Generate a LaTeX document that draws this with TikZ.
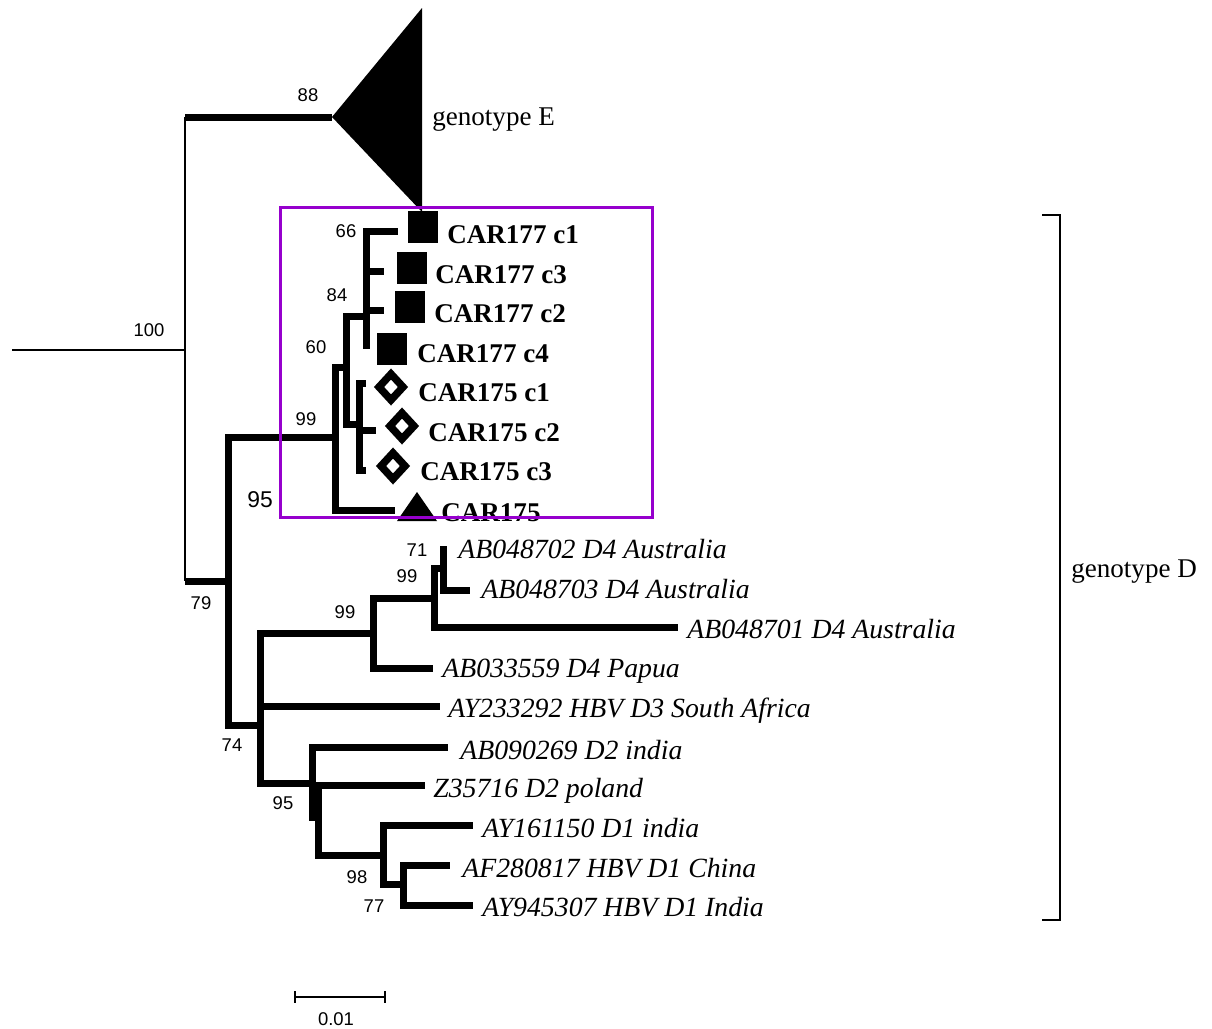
\documentclass[tikz,border=0pt]{standalone}
\usepackage{fontspec}
\setmainfont{Liberation Serif}
\newfontfamily\numfont{Liberation Sans}
\definecolor{boxpurple}{RGB}{150,0,205}
\begin{document}
\begin{tikzpicture}[x=0.02cm,y=-0.02cm,
  br/.style={line width=0.14cm,line join=miter},
  thinbr/.style={line width=0.04cm},
  tipit/.style={anchor=base west,inner sep=0pt,font=\fontsize{15.8}{18}\selectfont\itshape},
  tipbf/.style={anchor=base west,inner sep=0pt,font=\fontsize{15.4}{18}\selectfont\bfseries},
  clade/.style={anchor=base west,inner sep=0pt,font=\fontsize{15.4}{18}\selectfont},
  boot/.style={inner sep=0pt,font=\numfont\fontsize{10.5}{12}\selectfont},
  bootbig/.style={inner sep=0pt,font=\numfont\fontsize{13}{15}\selectfont},
  sqmark/.style={fill=black,inner sep=0pt,minimum width=0.6cm,minimum height=0.64cm},
  dmark/.style={line width=0.15cm,line join=miter},
]
\useasboundingbox (0,0) rectangle (1212,1028);
\fill[white] (0,0) rectangle (1212,1028);

% ---- tree coordinates ----
\coordinate (root) at (12,350);
\coordinate (n100) at (185,350);
\coordinate (nE) at (332,117);
\coordinate (n79) at (228,581);
\coordinate (n99a) at (335,437);
\coordinate (n60) at (346,367);
\coordinate (n66) at (366,316);
\coordinate (t1) at (398,231);
\coordinate (t3) at (384,271);
\coordinate (t2) at (384,310);
\coordinate (t4) at (366,349);
\coordinate (n175) at (359,424);
\coordinate (u1) at (366,383);
\coordinate (u2) at (376,430);
\coordinate (u3) at (366,470);
\coordinate (u0) at (395,510);
\coordinate (n74) at (260,725);
\coordinate (n99b) at (373,633);
\coordinate (n99c) at (434,598);
\coordinate (n71) at (443,568);
\coordinate (a702) at (443,546);
\coordinate (a703) at (470,590);
\coordinate (a701) at (678,627);
\coordinate (a559) at (433,668);
\coordinate (a292) at (440,706);
\coordinate (n95) at (312,783);
\coordinate (a269) at (448,747);
\coordinate (n95b) at (318,817);
\coordinate (a716) at (425,785);
\coordinate (n98) at (383,855);
\coordinate (a150) at (473,825);
\coordinate (n77) at (403,884);
\coordinate (a817) at (450,865);
\coordinate (a307) at (473,905);

% ---- branches ----
\draw[thinbr] (root) -- (n100);
\draw[thinbr] (nE -| n100) -- (n79 -| n100);
\draw[br] (nE -| n100) -- (nE);
\draw[br] (n79 -| n100) -- (n79);
\draw[br] (n79) |- (n99a);
\draw[br] (n79) |- (n74);
\draw[br] (n99a) |- (n60);
\draw[br] (n99a) |- (u0);
\draw[br] (n60) |- (n66);
\draw[br] (n60) |- (n175);
\draw[br] (n66) |- (t1);
\draw[br] (n66) |- (t3);
\draw[br] (n66) |- (t2);
\draw[br] (n66) |- (t4);
\draw[br] (n175) |- (u1);
\draw[br] (n175) |- (u2);
\draw[br] (n175) |- (u3);
\draw[br] (n74) |- (n99b);
\draw[br] (n74) |- (a292);
\draw[br] (n74) |- (n95);
\draw[br] (n99b) |- (n99c);
\draw[br] (n99b) |- (a559);
\draw[br] (n99c) |- (n71);
\draw[br] (n99c) |- (a701);
\draw[br] (n71) |- (a702);
\draw[br] (n71) |- (a703);
\draw[br] (n95) |- (a269);
\draw[br] (n95) |- (n95b);
\draw[br] (n95b) |- (a716);
\draw[br] (n95b) |- (n98);
\draw[br] (n98) |- (a150);
\draw[br] (n98) |- (n77);
\draw[br] (n77) |- (a817);
\draw[br] (n77) |- (a307);

% ---- collapsed genotype E ----
\fill (nE) -- (422,8) -- (422,212) -- cycle;
\node[clade] (gE) at (432,125) {genotype E};

% ---- markers ----
\node[sqmark] (m1) at (422.5,226.5) {};
\node[sqmark] (m3) at (411.5,267.5) {};
\node[sqmark] (m2) at (409.5,307) {};
\node[sqmark] (m4) at (392,348.5) {};
\draw[dmark] (391,374) -- (403,387) -- (391,400) -- (379,387) -- cycle;
\draw[dmark] (402,413) -- (414,426) -- (402,439) -- (390,426) -- cycle;
\draw[dmark] (393,453) -- (405,466) -- (393,479) -- (381,466) -- cycle;
\fill (417,492) -- (437,521) -- (397,521) -- cycle;

% ---- tip labels ----
\node[tipbf] (l1) at (447,243) {CAR177 c1};
\node[tipbf] (l3) at (435,283) {CAR177 c3};
\node[tipbf] (l2) at (434,322) {CAR177 c2};
\node[tipbf] (l4) at (417,362) {CAR177 c4};
\node[tipbf] (k1) at (418,401) {CAR175 c1};
\node[tipbf] (k2) at (428,441) {CAR175 c2};
\node[tipbf] (k3) at (420,480) {CAR175 c3};
\node[tipbf] (k0) at (441,521) {CAR175};

\node[tipit] (b702) at (458,558) {AB048702 D4 Australia};
\node[tipit] (b703) at (481,598) {AB048703 D4 Australia};
\node[tipit] (b701) at (687,638) {AB048701 D4 Australia};
\node[tipit] (b559) at (442,677) {AB033559 D4 Papua};
\node[tipit] (b292) at (448,717) {AY233292 HBV D3 South Africa};
\node[tipit] (b269) at (460,759) {AB090269 D2 india};
\node[tipit] (b716) at (433,797) {Z35716 D2 poland};
\node[tipit] (b150) at (482,837) {AY161150 D1 india};
\node[tipit] (b817) at (462,877) {AF280817 HBV D1 China};
\node[tipit] (b307) at (482,916) {AY945307 HBV D1 India};

% ---- bootstrap values ----
\node[boot] (s100) at (149,330) {100};
\node[boot] (s88) at (308,95) {88};
\node[boot] (s66) at (346,231) {66};
\node[boot] (s84) at (337,295) {84};
\node[boot] (s60) at (316,347) {60};
\node[boot] (s99a) at (306,419) {99};
\node[bootbig] (s95a) at (260,500) {95};
\node[boot] (s79) at (201,603) {79};
\node[boot] (s71) at (417,550) {71};
\node[boot] (s99c) at (407,576) {99};
\node[boot] (s99b) at (345,612) {99};
\node[boot] (s74) at (232,745) {74};
\node[boot] (s95b) at (283,803) {95};
\node[boot] (s98) at (357,877) {98};
\node[boot] (s77) at (374,906) {77};

% ---- highlight box ----
\draw[boxpurple,line width=0.06cm] (280,207) rectangle (652,517);

% ---- genotype D bracket ----
\coordinate (dtop) at (1060,215);
\coordinate (dbot) at (1060,920);
\draw[thinbr] (1042,215) -- (dtop) -- (dbot) -- (1042,920);
\node[clade] (gD) at (1071,577) {genotype D};

% ---- scale bar ----
\coordinate (sbl) at (295,997);
\coordinate (sbr) at (385,997);
\draw[thinbr] (sbl) -- (sbr);
\draw[thinbr] (295,991) -- (295,1003);
\draw[thinbr] (385,991) -- (385,1003);
\node[boot] (sbt) at (336,1019) {0.01};
\end{tikzpicture}
\end{document}
